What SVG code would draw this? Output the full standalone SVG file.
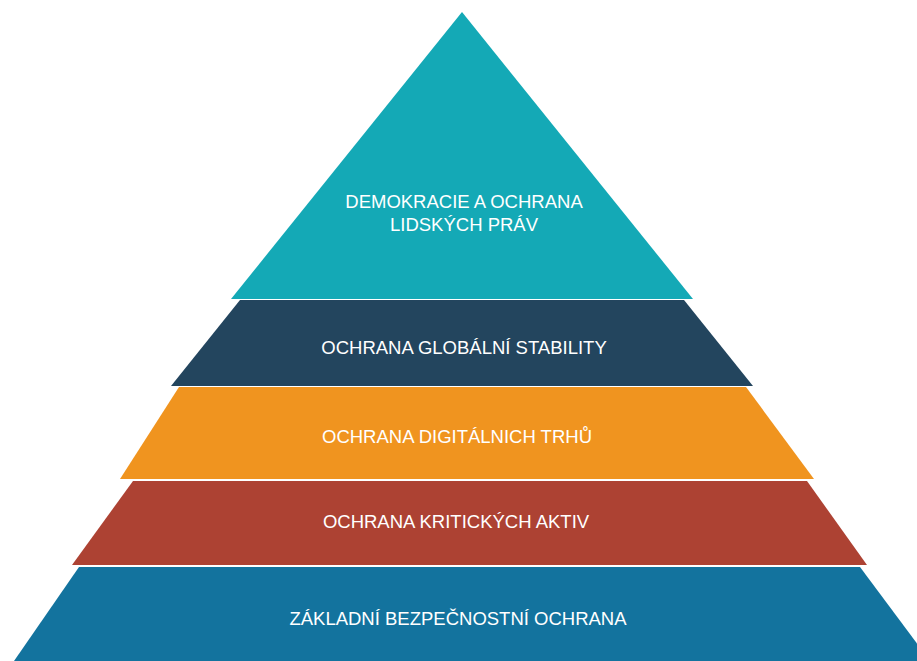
<svg xmlns="http://www.w3.org/2000/svg" width="917" height="661" viewBox="0 0 917 661">
  <style>
    .label { font-family: "Liberation Sans", Arial, Helvetica, sans-serif; font-size: 18.5px; fill: #ffffff; text-anchor: middle; }
  </style>
  <rect x="0" y="0" width="917" height="661" fill="#ffffff"/>
  <!-- Pyramid tiers, top to bottom -->
  <g id="tier-democracy">
    <polygon points="462,12 693,299 231,299" fill="#14a9b6"/>
    <text class="label" x="464" y="208">DEMOKRACIE A OCHRANA</text>
    <text class="label" x="464" y="231">LIDSKÝCH PRÁV</text>
  </g>
  <g id="tier-global-stability">
    <polygon points="240,300 684,300 753,386 171,386" fill="#23455e"/>
    <text class="label" x="464" y="354">OCHRANA GLOBÁLNÍ STABILITY</text>
  </g>
  <g id="tier-digital-markets">
    <polygon points="179,387 746,387 814,479 120,479" fill="#f0941f"/>
    <text class="label" x="457" y="443">OCHRANA DIGITÁLNICH TRHŮ</text>
  </g>
  <g id="tier-critical-assets">
    <polygon points="133,481 807,481 867,565 72,565" fill="#ad4233"/>
    <text class="label" x="456" y="528">OCHRANA KRITICKÝCH AKTIV</text>
  </g>
  <g id="tier-basic-security">
    <polygon points="79,567 860,567 930,661 14,661" fill="#13739e"/>
    <text class="label" x="458" y="625">ZÁKLADNÍ BEZPEČNOSTNÍ OCHRANA</text>
  </g>
  <g id="connectors"/>
</svg>
